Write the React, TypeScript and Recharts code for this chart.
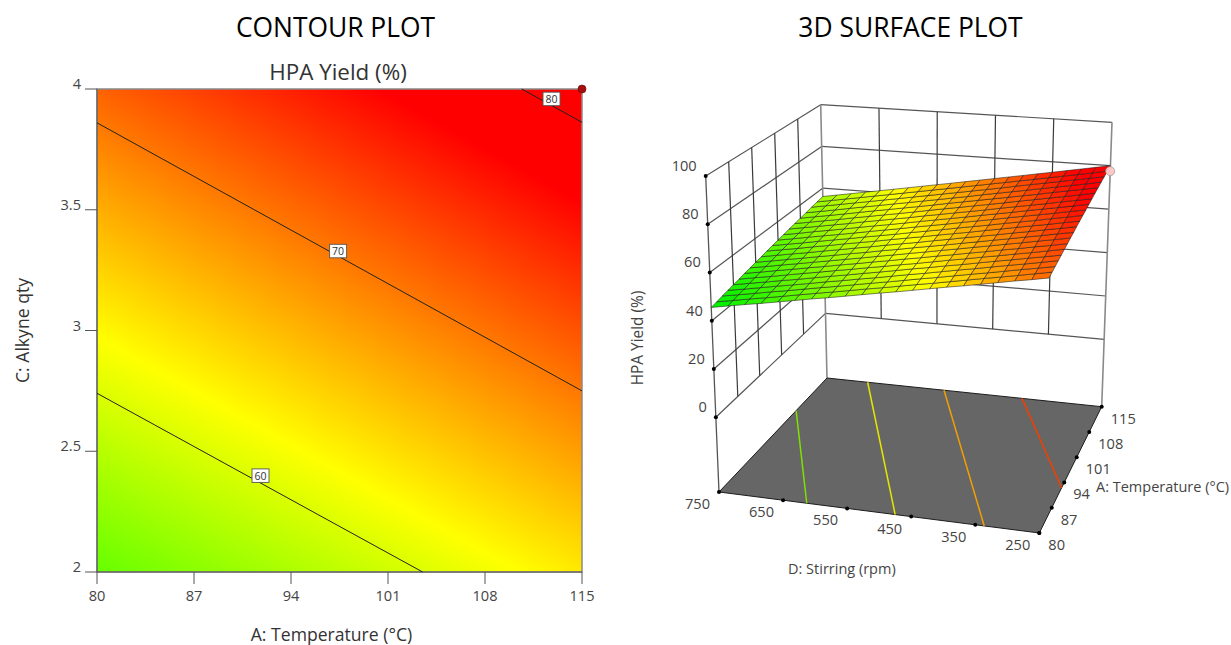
import React from 'react';
import { ScatterChart, Scatter, XAxis, YAxis, ReferenceArea } from 'recharts';

const FONT = '"Open Sans", sans-serif';

// contour panel
const tempTicks = [80, 87, 94, 101, 108, 115];
const alkyneTicks = [2, 2.5, 3, 3.5, 4];
const contour60 = [{ x: 80, y: 2.74 }, { x: 103.5, y: 2 }];
const contour70 = [{ x: 80, y: 3.86 }, { x: 115, y: 2.75 }];
const contour80 = [{ x: 110.65, y: 4 }, { x: 115, y: 3.862 }];
const contourLabels = [
  { x: 91.8, y: 2.4, label: '60' },
  { x: 97.4, y: 3.33, label: '70' },
  { x: 112.8, y: 3.96, label: '80' },
];
const designPoint = [{ x: 115, y: 4 }];

// surface panel
const stirringTicks = [750, 650, 550, 450, 350, 250];
const yieldTicks = [0, 20, 40, 60, 80, 100];
const tempGrid = [80, 81.75, 83.5, 85.25, 87, 88.75, 90.5, 92.25, 94, 95.75, 97.5, 99.25, 101, 102.75, 104.5, 106.25, 108, 109.75, 111.5, 113.25, 115];
const stirGrid = [750, 725, 700, 675, 650, 625, 600, 575, 550, 525, 500, 475, 450, 425, 400, 375, 350, 325, 300, 275, 250];
// HPA yield, one row per temperature, one column per stirring speed
const surfaceYield = [
  [45.5,46.8,48.1,49.3,50.6,51.9,53.2,54.4,55.7,57.0,58.3,59.5,60.8,62.1,63.4,64.6,65.9,67.2,68.5,69.7,71.0],
  [46.0,47.3,48.6,49.8,51.1,52.4,53.7,54.9,56.2,57.5,58.7,60.0,61.3,62.5,63.8,65.1,66.4,67.6,68.9,70.2,71.5],
  [46.6,47.8,49.1,50.4,51.6,52.9,54.2,55.4,56.7,58.0,59.2,60.5,61.8,63.0,64.3,65.6,66.8,68.1,69.4,70.6,71.9],
  [47.1,48.3,49.6,50.9,52.1,53.4,54.7,55.9,57.2,58.4,59.7,61.0,62.2,63.5,64.8,66.0,67.3,68.6,69.8,71.1,72.4],
  [47.6,48.9,50.1,51.4,52.6,53.9,55.2,56.4,57.7,58.9,60.2,61.5,62.7,64.0,65.2,66.5,67.8,69.0,70.3,71.5,72.8],
  [48.1,49.4,50.6,51.9,53.2,54.4,55.7,56.9,58.2,59.4,60.7,61.9,63.2,64.5,65.7,67.0,68.2,69.5,70.7,72.0,73.3],
  [48.7,49.9,51.2,52.4,53.7,54.9,56.2,57.4,58.7,59.9,61.2,62.4,63.7,64.9,66.2,67.4,68.7,69.9,71.2,72.4,73.7],
  [49.2,50.4,51.7,52.9,54.2,55.4,56.7,57.9,59.2,60.4,61.7,62.9,64.2,65.4,66.7,67.9,69.2,70.4,71.7,72.9,74.2],
  [49.7,50.9,52.2,53.4,54.7,55.9,57.2,58.4,59.7,60.9,62.2,63.4,64.6,65.9,67.1,68.4,69.6,70.9,72.1,73.4,74.6],
  [50.2,51.5,52.7,53.9,55.2,56.4,57.7,58.9,60.2,61.4,62.6,63.9,65.1,66.4,67.6,68.8,70.1,71.3,72.6,73.8,75.1],
  [50.8,52.0,53.2,54.5,55.7,57.0,58.2,59.4,60.7,61.9,63.1,64.4,65.6,66.8,68.1,69.3,70.6,71.8,73.0,74.3,75.5],
  [51.3,52.5,53.7,55.0,56.2,57.4,58.7,59.9,61.1,62.4,63.6,64.8,66.1,67.3,68.5,69.8,71.0,72.2,73.5,74.7,76.0],
  [51.8,53.0,54.3,55.5,56.7,57.9,59.2,60.4,61.6,62.9,64.1,65.3,66.6,67.8,69.0,70.3,71.5,72.7,73.9,75.2,76.4],
  [52.3,53.5,54.8,56.0,57.2,58.5,59.7,60.9,62.1,63.4,64.6,65.8,67.0,68.3,69.5,70.7,72.0,73.2,74.4,75.6,76.9],
  [52.9,54.1,55.3,56.5,57.7,59.0,60.2,61.4,62.6,63.9,65.1,66.3,67.5,68.7,70.0,71.2,72.4,73.6,74.9,76.1,77.3],
  [53.4,54.6,55.8,57.0,58.3,59.5,60.7,61.9,63.1,64.4,65.6,66.8,68.0,69.2,70.4,71.7,72.9,74.1,75.3,76.5,77.8],
  [53.9,55.1,56.3,57.5,58.8,60.0,61.2,62.4,63.6,64.8,66.1,67.3,68.5,69.7,70.9,72.1,73.3,74.6,75.8,77.0,78.2],
  [54.4,55.6,56.8,58.1,59.3,60.5,61.7,62.9,64.1,65.3,66.5,67.7,69.0,70.2,71.4,72.6,73.8,75.0,76.2,77.4,78.7],
  [55.0,56.2,57.4,58.6,59.8,61.0,62.2,63.4,64.6,65.8,67.0,68.2,69.4,70.6,71.9,73.1,74.3,75.5,76.7,77.9,79.1],
  [55.5,56.7,57.9,59.1,60.3,61.5,62.7,63.9,65.1,66.3,67.5,68.7,69.9,71.1,72.3,73.5,74.7,75.9,77.1,78.3,79.6],
  [56.0,57.2,58.4,59.6,60.8,62.0,63.2,64.4,65.6,66.8,68.0,69.2,70.4,71.6,72.8,74.0,75.2,76.4,77.6,78.8,80.0],
];
// floor contours as [temperature, stirring] end points
const floorContours = [
  { color: '#80e000', ends: [[80, 613], [105, 750]] },
  { color: '#e6e600', ends: [[80, 475], [115, 676]] },
  { color: '#f0a000', ends: [[80, 336], [115, 537]] },
  { color: '#f04000', ends: [[92.5, 250], [115, 395]] },
];
const surfacePoint = { temp: 115, stir: 250, value: 77.5 };

// box corners on the page, used to project temperature/stirring/yield
const FLOOR_YIELD = -31;
const TOP_YIELD = 100;
const floorCorners = { a: [719, 492], b: [1039.3, 533], c: [1101.7, 406.7], d: [827, 378] };
const topCorners = { a: [705.7, 176], b: [1051.8, 205.5], c: [1112, 122.3], d: [820.7, 104.7] };

const mix = (p: number[], q: number[], t: number) => [p[0] + (q[0] - p[0]) * t, p[1] + (q[1] - p[1]) * t];

const project = (temp: number, stir: number, value: number) => {
  const u = (temp - 80) / 35;
  const v = (750 - stir) / 500;
  const t = (value - FLOOR_YIELD) / (TOP_YIELD - FLOOR_YIELD);
  const onPlane = (k: typeof floorCorners) => mix(mix(k.a, k.b, v), mix(k.d, k.c, v), u);
  const [x, y] = mix(onPlane(floorCorners), onPlane(topCorners), t);
  return { x, y };
};

const yieldColor = (value: number) => {
  if (value <= 62) {
    const t = Math.max(0, (value - 46) / 16);
    return `rgb(${Math.round(255 * t)},${Math.round(240 + 15 * t)},0)`;
  }
  const t = Math.min(1, (value - 62) / 15);
  return `rgb(255,${Math.round(255 * (1 - t))},0)`;
};

const surfaceCells: any[] = [];
for (let i = 0; i < tempGrid.length - 1; i++) {
  for (let j = 0; j < stirGrid.length - 1; j++) {
    const pts = [
      project(tempGrid[i], stirGrid[j], surfaceYield[i][j]),
      project(tempGrid[i], stirGrid[j + 1], surfaceYield[i][j + 1]),
      project(tempGrid[i + 1], stirGrid[j + 1], surfaceYield[i + 1][j + 1]),
      project(tempGrid[i + 1], stirGrid[j], surfaceYield[i + 1][j]),
    ];
    const mean = (surfaceYield[i][j] + surfaceYield[i][j + 1] + surfaceYield[i + 1][j + 1] + surfaceYield[i + 1][j]) / 4;
    surfaceCells.push({ ...pts[0], pts, fill: yieldColor(mean) });
  }
}

const WALL = '#555555';
const EDGE = '#8a8a8a';
const wallLines: any[] = [];
yieldTicks.forEach((z) => {
  wallLines.push({ pts: [project(80, 750, z), project(115, 750, z)], stroke: WALL, width: 1.2 });
  wallLines.push({ pts: [project(115, 750, z), project(115, 250, z)], stroke: WALL, width: 1.2 });
});
tempTicks.slice(1, -1).forEach((a) => {
  wallLines.push({ pts: [project(a, 750, 0), project(a, 750, 100)], stroke: '#3a3a3a', width: 1.2 });
});
stirringTicks.slice(1, -1).forEach((d) => {
  wallLines.push({ pts: [project(115, d, 0), project(115, d, 100)], stroke: '#3a3a3a', width: 1.2 });
});
wallLines.push({ pts: [project(80, 750, FLOOR_YIELD), project(80, 750, 100)], stroke: '#555', width: 1.3 });
wallLines.push({ pts: [project(115, 750, FLOOR_YIELD), project(115, 750, 100)], stroke: EDGE, width: 1.6 });
wallLines.push({ pts: [project(115, 250, FLOOR_YIELD), project(115, 250, 100)], stroke: EDGE, width: 1.6 });

const floorCell = [{
  ...project(80, 750, FLOOR_YIELD),
  pts: [project(80, 750, FLOOR_YIELD), project(80, 250, FLOOR_YIELD), project(115, 250, FLOOR_YIELD), project(115, 750, FLOOR_YIELD)],
  fill: '#666666',
}];

const axisDots = [
  ...yieldTicks.map((z) => project(80, 750, z)),
  ...stirringTicks.map((d) => project(80, d, FLOOR_YIELD)),
  ...tempTicks.map((a) => project(a, 250, FLOOR_YIELD)),
];
const tickTexts = [
  ...yieldTicks.map((z) => ({ ...project(80, 750, z), label: String(z), dx: -9, dy: -11, anchor: 'end' })),
  ...stirringTicks.map((d) => ({ ...project(80, d, FLOOR_YIELD), label: String(d), dx: -9, dy: 11, anchor: 'end' })),
  ...tempTicks.map((a) => ({ ...project(a, 250, FLOOR_YIELD), label: String(a), dx: 9, dy: 11, anchor: 'start' })),
];

const Quad = (props: any) => {
  const { cx, cy, payload } = props;
  const d = payload.pts.map((p: any) => `${cx + p.x - payload.x},${cy + p.y - payload.y}`).join(' ');
  return <polygon points={d} fill={payload.fill} stroke="#1c1c1c" strokeWidth={payload.fill === '#666666' ? 1 : 0.55} />;
};
const NoMark = () => <g />;
const Dot = (props: any) => <circle cx={props.cx} cy={props.cy} r={2} fill="#000" />;
const TickText = (props: any) => {
  const { cx, cy, payload } = props;
  return (
    <text x={cx + payload.dx} y={cy + payload.dy} textAnchor={payload.anchor} dominantBaseline="central" fontSize={14.6} fontFamily={FONT} fill="#444">
      {payload.label}
    </text>
  );
};
const ContourLabel = (props: any) => {
  const { cx, cy, payload } = props;
  return (
    <g>
      <rect x={cx - 8.5} y={cy - 6.5} width={17} height={13.5} fill="#fff" stroke="#555" strokeWidth={0.9} />
      <text x={cx} y={cy + 0.5} textAnchor="middle" dominantBaseline="central" fontSize={10.5} fontFamily={FONT} fill="#333">
        {payload.label}
      </text>
    </g>
  );
};
const DesignDot = (props: any) => <circle cx={props.cx} cy={props.cy} r={4} fill="#a80c0c" stroke="#701010" strokeWidth={0.7} />;
const PinkDot = (props: any) => <circle cx={props.cx} cy={props.cy} r={4.5} fill="#ffc6c6" stroke="#999" strokeWidth={0.7} />;

const tickStyle = { fill: '#444', fontSize: 14.6, fontFamily: FONT };
const labelStyle = { fill: '#333', fontSize: 17.6, fontFamily: FONT };
const captionStyle = { position: 'absolute', color: '#000', fontFamily: FONT, whiteSpace: 'nowrap', transform: 'translateX(-50%)' } as React.CSSProperties;
const plainText = { position: 'absolute', color: '#444', fontFamily: FONT, fontSize: 14.5, whiteSpace: 'nowrap' } as React.CSSProperties;

export default function App() {
  return (
    <div style={{ position: 'absolute', left: 0, top: 0, width: 1231, height: 645, background: '#fff', overflow: 'hidden' }}>
      <div style={{ ...captionStyle, left: 335.5, top: 9, fontSize: 26.4 }}>CONTOUR PLOT</div>
      <div style={{ ...captionStyle, left: 910.5, top: 9, fontSize: 26.4 }}>3D SURFACE PLOT</div>
      <div style={{ ...captionStyle, left: 338, top: 56, fontSize: 22.4, color: '#333' }}>HPA Yield (%)</div>

      <div style={{ position: 'absolute', left: 0, top: 0 }}>
        <ScatterChart width={640} height={645} margin={{ top: 89, right: 58, bottom: 33, left: 7 }}>
          <defs>
            <linearGradient id="yieldField" gradientUnits="userSpaceOnUse" x1={97} y1={572} x2={416} y2={-3}>
              <stop offset="0" stopColor="#66ff00" />
              <stop offset="0.312" stopColor="#ffff00" />
              <stop offset="0.85" stopColor="#ff0000" />
              <stop offset="1" stopColor="#ff0000" />
            </linearGradient>
          </defs>
          <XAxis
            dataKey="x"
            type="number"
            domain={[80, 115]}
            ticks={tempTicks}
            interval={0}
            height={40}
            tickSize={12}
            tickMargin={7}
            tick={tickStyle}
            tickLine={{ stroke: '#555' }}
            axisLine={{ stroke: '#555' }}
            label={{ value: 'A: Temperature (°C)', position: 'insideBottom', offset: -29, dx: -8, style: labelStyle }}
          />
          <YAxis
            dataKey="y"
            type="number"
            domain={[2, 4]}
            ticks={alkyneTicks}
            interval={0}
            width={90}
            tickSize={12}
            tickMargin={4}
            tick={{ ...tickStyle, dy: -5 }}
            tickLine={{ stroke: '#555' }}
            axisLine={{ stroke: '#555' }}
            label={{ value: 'C: Alkyne qty', angle: -90, position: 'insideLeft', offset: 16, style: { ...labelStyle, textAnchor: 'middle' } }}
          />
          <ReferenceArea x1={80} x2={115} y1={2} y2={4} fill="url(#yieldField)" fillOpacity={1} stroke="#8a8a8a" strokeWidth={1.5} />
          <Scatter data={contour60} line={{ stroke: '#222', strokeWidth: 1 }} shape={NoMark} isAnimationActive={false} />
          <Scatter data={contour70} line={{ stroke: '#222', strokeWidth: 1 }} shape={NoMark} isAnimationActive={false} />
          <Scatter data={contour80} line={{ stroke: '#222', strokeWidth: 1 }} shape={NoMark} isAnimationActive={false} />
          <Scatter data={contourLabels} shape={ContourLabel} isAnimationActive={false} />
          <Scatter data={designPoint} shape={DesignDot} isAnimationActive={false} />
        </ScatterChart>
      </div>

      <div style={{ position: 'absolute', left: 0, top: 0 }}>
        <ScatterChart width={1231} height={645} margin={{ top: 0, right: 0, bottom: 0, left: 0 }} style={{ background: 'transparent' }}>
          <XAxis dataKey="x" type="number" domain={[0, 1231]} hide />
          <YAxis dataKey="y" type="number" domain={[0, 645]} reversed hide />
          {wallLines.map((l, i) => (
            <Scatter key={`wall${i}`} data={l.pts} line={{ stroke: l.stroke, strokeWidth: l.width }} shape={NoMark} isAnimationActive={false} />
          ))}
          <Scatter data={floorCell} shape={Quad} isAnimationActive={false} />
          {floorContours.map((c) => (
            <Scatter
              key={c.color}
              data={c.ends.map(([a, d]) => project(a, d, FLOOR_YIELD))}
              line={{ stroke: c.color, strokeWidth: 1.5 }}
              shape={NoMark}
              isAnimationActive={false}
            />
          ))}
          <Scatter data={surfaceCells} shape={Quad} isAnimationActive={false} />
          <Scatter data={[project(surfacePoint.temp, surfacePoint.stir, surfacePoint.value)]} shape={PinkDot} isAnimationActive={false} />
          <Scatter data={axisDots} shape={Dot} isAnimationActive={false} />
          <Scatter data={tickTexts} shape={TickText} isAnimationActive={false} />
        </ScatterChart>
      </div>

      <div style={{ ...plainText, left: 788, top: 559 }}>D: Stirring (rpm)</div>
      <div style={{ ...plainText, left: 1096, top: 477 }}>A: Temperature (°C)</div>
      <div style={{ ...plainText, left: 637, top: 338, fontSize: 15.4, transform: 'translate(-50%, -50%) rotate(-90deg)' }}>HPA Yield (%)</div>
    </div>
  );
}
